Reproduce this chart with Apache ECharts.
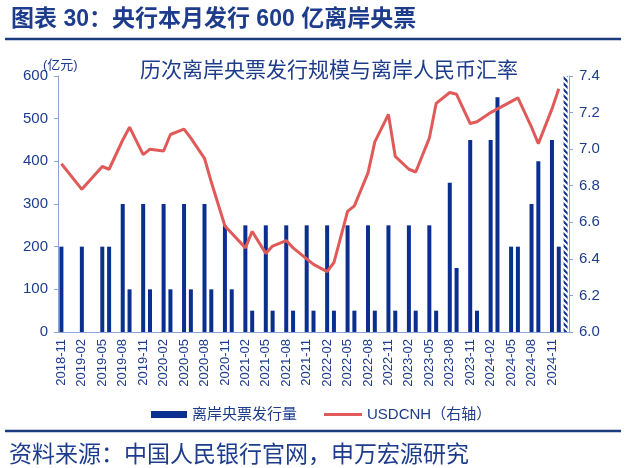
<!DOCTYPE html>
<html>
<head>
<meta charset="utf-8">
<script src="https://cdn.jsdelivr.net/npm/echarts@6/dist/echarts.min.js"></script>
<style>
  html, body { margin: 0; padding: 0; background: #fff; }
  #chart { width: 626px; height: 468px; }
</style>
</head>
<body>
<div id="chart"></div>
<script>
// 横轴：2018-11 至 2025-01 逐月
const months = [
  '2018-11', '2018-12',
  '2019-01', '2019-02', '2019-03', '2019-04', '2019-05', '2019-06', '2019-07', '2019-08', '2019-09', '2019-10', '2019-11', '2019-12',
  '2020-01', '2020-02', '2020-03', '2020-04', '2020-05', '2020-06', '2020-07', '2020-08', '2020-09', '2020-10', '2020-11', '2020-12',
  '2021-01', '2021-02', '2021-03', '2021-04', '2021-05', '2021-06', '2021-07', '2021-08', '2021-09', '2021-10', '2021-11', '2021-12',
  '2022-01', '2022-02', '2022-03', '2022-04', '2022-05', '2022-06', '2022-07', '2022-08', '2022-09', '2022-10', '2022-11', '2022-12',
  '2023-01', '2023-02', '2023-03', '2023-04', '2023-05', '2023-06', '2023-07', '2023-08', '2023-09', '2023-10', '2023-11', '2023-12',
  '2024-01', '2024-02', '2024-03', '2024-04', '2024-05', '2024-06', '2024-07', '2024-08', '2024-09', '2024-10', '2024-11', '2024-12',
  '2025-01'
]

// 发行月份、发行量（亿元）、当月 USDCNH
const issueMonths = [
  '2018-11', '2019-02', '2019-05', '2019-06', '2019-08', '2019-09', '2019-11', '2019-12',
  '2020-02', '2020-03', '2020-05', '2020-06', '2020-08', '2020-09', '2020-11', '2020-12',
  '2021-02', '2021-03', '2021-05', '2021-06', '2021-08', '2021-09', '2021-11', '2021-12',
  '2022-02', '2022-03', '2022-05', '2022-06', '2022-08', '2022-09', '2022-11', '2022-12',
  '2023-02', '2023-03', '2023-05', '2023-06', '2023-08', '2023-09', '2023-11', '2023-12',
  '2024-02', '2024-03', '2024-05', '2024-06', '2024-08', '2024-09', '2024-11', '2024-12',
  '2025-01'
]
const issueAmount = [
  200, 200, 200, 200, 300, 100, 300, 100,
  300, 100, 300, 100, 300, 100, 250, 100,
  250, 50, 250, 50, 250, 50, 250, 50,
  250, 50, 250, 50, 250, 50, 250, 50,
  250, 50, 250, 50, 350, 150, 450, 50,
  450, 550, 200, 200, 300, 400, 450, 200,
  600
]
const usdcnh = [
  6.92, 6.78, 6.905, 6.89, 7.05, 7.12, 6.97, 7.00,
  6.99, 7.08, 7.11, 7.06, 6.95, 6.82, 6.58, 6.54,
  6.46, 6.55, 6.43, 6.47, 6.50, 6.46, 6.40, 6.37,
  6.33, 6.38, 6.66, 6.69, 6.87, 7.04, 7.19, 6.96,
  6.89, 6.875, 7.06, 7.25, 7.31, 7.30, 7.14, 7.15,
  7.20, 7.22, 7.26, 7.28, 7.12, 7.03, 7.22, 7.33,
  null
]
const currentMonth = '2025-01' // 本月发行，斜纹填充

const blue = '#0b2f8f'
const red = '#e05a5a'
const textBlue = '#1e3c8c'
const axisBlue = '#8aa3d4'
const font = '"Liberation Sans", "Noto Sans CJK SC", sans-serif'

// 斜纹
function hatch () {
  const c = document.createElement('canvas')
  c.width = 6
  c.height = 6
  const ctx = c.getContext('2d')
  ctx.fillStyle = '#fff'
  ctx.fillRect(0, 0, 6, 6)
  ctx.strokeStyle = blue
  ctx.lineWidth = 2
  ctx.beginPath()
  ctx.moveTo(-1, -1); ctx.lineTo(7, 7)
  ctx.moveTo(-4, 2); ctx.lineTo(4, 10)
  ctx.moveTo(2, -4); ctx.lineTo(10, 4)
  ctx.stroke()
  return c
}

const barData = months.map(m => {
  const i = issueMonths.indexOf(m)
  if (i < 0) return null
  if (m === currentMonth) {
    return { value: issueAmount[i], itemStyle: { color: { image: hatch(), repeat: 'repeat' } } }
  }
  return issueAmount[i]
})
const lineData = months.map(m => {
  const i = issueMonths.indexOf(m)
  return i < 0 ? null : usdcnh[i]
})

const myChart = echarts.init(document.getElementById('chart'))
myChart.setOption({
  animation: false,
  backgroundColor: '#fff',
  textStyle: { fontFamily: font },
  title: [
    {
      text: '图表 30：央行本月发行 600 亿离岸央票',
      left: 6,
      top: 3,
      textStyle: { fontSize: 23, fontWeight: 'bold', color: textBlue, fontFamily: font }
    },
    {
      text: '历次离岸央票发行规模与离岸人民币汇率',
      left: 135,
      top: 56,
      textStyle: { fontSize: 21, fontWeight: 'normal', color: textBlue, fontFamily: font }
    },
    {
      text: '(亿元)',
      left: 38,
      top: 54,
      textStyle: { fontSize: 13, fontWeight: 'normal', color: textBlue, fontFamily: font }
    },
    {
      text: '资料来源：中国人民银行官网，申万宏源研究',
      left: 4,
      top: 439,
      textStyle: { fontSize: 23, fontWeight: 'normal', color: textBlue, fontFamily: font }
    }
  ],
  graphic: [
    { type: 'line', shape: { x1: 5, y1: 39, x2: 621, y2: 39 }, style: { stroke: '#1c3a7e', lineWidth: 2.5 } },
    { type: 'line', shape: { x1: 5, y1: 431, x2: 621, y2: 431 }, style: { stroke: '#1c3a7e', lineWidth: 2.5 } }
  ],
  legend: [
    {
      data: ['离岸央票发行量'],
      left: 146,
      top: 402,
      icon: 'rect',
      itemWidth: 36,
      itemHeight: 7,
      textStyle: { fontSize: 15, color: textBlue, fontFamily: font }
    },
    {
      data: ['USDCNH（右轴）'],
      left: 319,
      top: 402,
      icon: 'rect',
      itemWidth: 38,
      itemHeight: 3,
      textStyle: { fontSize: 15, color: textBlue, fontFamily: font }
    }
  ],
  grid: { left: 58, right: 57, top: 76, bottom: 136, containLabel: false },
  xAxis: {
    type: 'category',
    data: months,
    boundaryGap: true,
    axisLine: { lineStyle: { color: axisBlue, width: 1 } },
    axisTick: { interval: 2, length: 5, lineStyle: { color: axisBlue } },
    axisLabel: { interval: 2, rotate: 90, fontSize: 13, color: textBlue, margin: 7 }
  },
  yAxis: [
    {
      type: 'value',
      min: 0,
      max: 600,
      interval: 100,
      splitLine: { show: false },
      axisLine: { show: true, lineStyle: { color: axisBlue } },
      axisTick: { show: true, length: 4, lineStyle: { color: axisBlue } },
      axisLabel: { fontSize: 15, color: textBlue, margin: 10 }
    },
    {
      type: 'value',
      min: 6.0,
      max: 7.4,
      interval: 0.2,
      position: 'right',
      splitLine: { show: false },
      axisLine: { show: true, lineStyle: { color: axisBlue } },
      axisTick: { show: true, length: 4, lineStyle: { color: axisBlue } },
      axisLabel: { fontSize: 15, color: textBlue, margin: 10, formatter: v => v.toFixed(1) }
    }
  ],
  series: [
    {
      name: '离岸央票发行量',
      type: 'bar',
      barWidth: 4,
      itemStyle: { color: blue },
      data: barData
    },
    {
      name: 'USDCNH（右轴）',
      type: 'line',
      yAxisIndex: 1,
      connectNulls: true,
      showSymbol: false,
      symbol: 'none',
      itemStyle: { color: red },
      lineStyle: { color: red, width: 3 },
      data: lineData
    }
  ]
})
</script>
</body>
</html>
